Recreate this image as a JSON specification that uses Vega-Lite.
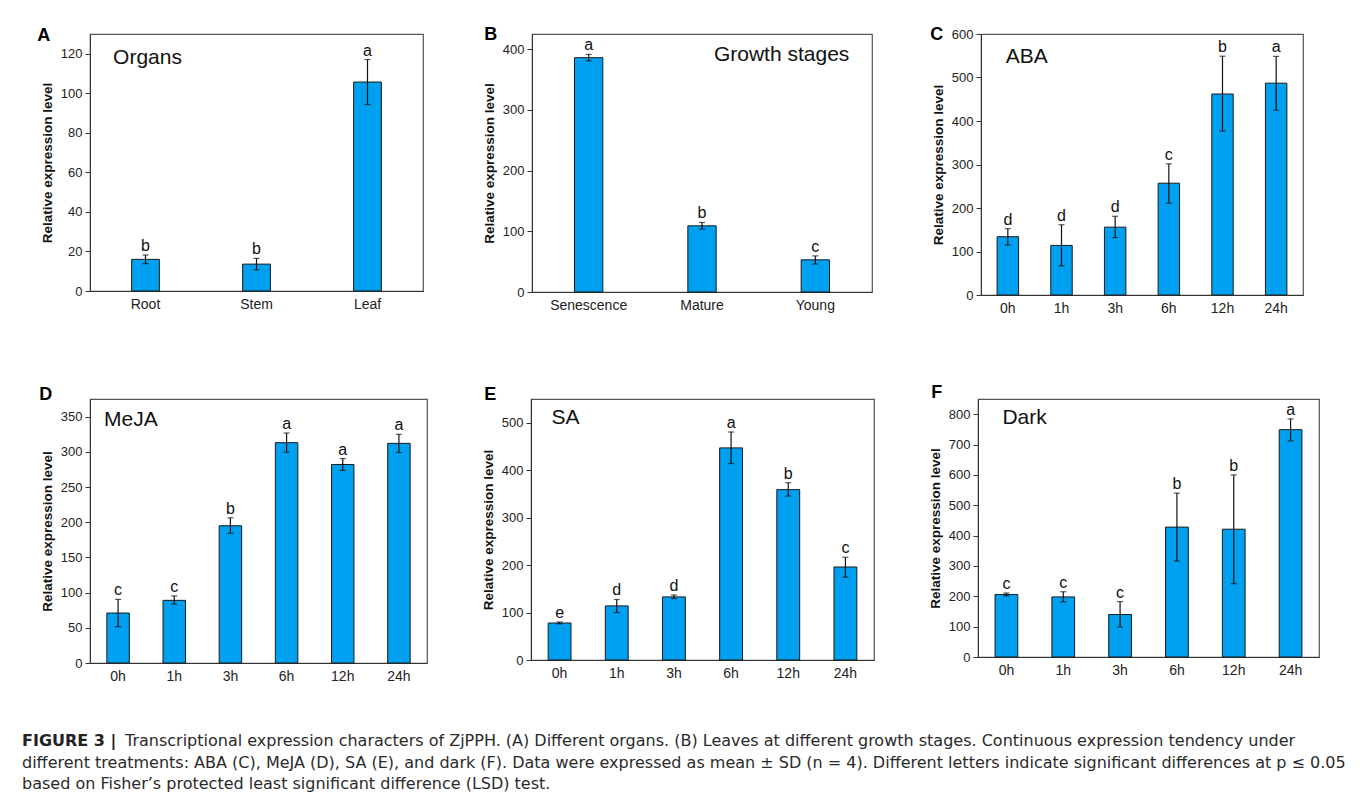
{
  "$schema": "https://vega.github.io/schema/vega-lite/v6.json",
  "padding": {"left": 22, "top": 25, "right": 5, "bottom": 5},
  "background": "white",
  "bounds": "flush",
  "spacing": 365,
  "vconcat": [
    {
      "bounds": "flush",
      "spacing": 109,
      "hconcat": [
        {
          "width": 333, "height": 257,
          "title": {"text": "A", "dx": -3, "offset": -10.5},
          "data": {"values": [
            {"g": "Root", "mean": 16, "lo": 13.8, "hi": 18.2, "letter": "b"},
            {"g": "Stem", "mean": 13.6, "lo": 10.7, "hi": 16.5, "letter": "b"},
            {"g": "Leaf", "mean": 105.7, "lo": 94.3, "hi": 117.1, "letter": "a"}
          ]},
          "encoding": {"x": {"field": "g", "type": "nominal", "sort": null, "scale": {"paddingInner": 0.75, "paddingOuter": 0.375}, "axis": {"title": null}}},
          "layer": [
            {"mark": {"type": "bar", "fill": "#00A0F0", "stroke": "#1a1a1a", "strokeWidth": 1},
             "encoding": {"y": {"field": "mean", "type": "quantitative", "title": "Relative expression level", "scale": {"domain": [0, 130], "nice": false}, "axis": {"values": [0, 20, 40, 60, 80, 100, 120]}}}},
            {"mark": {"type": "rule", "color": "#111", "strokeWidth": 1.2},
             "encoding": {"y": {"field": "lo", "type": "quantitative", "title": "Relative expression level", "scale": {"domain": [0, 130], "nice": false}, "axis": {"values": [0, 20, 40, 60, 80, 100, 120]}}, "y2": {"field": "hi"}}},
            {"mark": {"type": "tick", "color": "#111", "size": 6, "thickness": 1.2},
             "encoding": {"y": {"field": "lo", "type": "quantitative", "title": "Relative expression level", "scale": {"domain": [0, 130], "nice": false}, "axis": {"values": [0, 20, 40, 60, 80, 100, 120]}}}},
            {"mark": {"type": "tick", "color": "#111", "size": 6, "thickness": 1.2},
             "encoding": {"y": {"field": "hi", "type": "quantitative", "title": "Relative expression level", "scale": {"domain": [0, 130], "nice": false}, "axis": {"values": [0, 20, 40, 60, 80, 100, 120]}}}},
            {"mark": {"type": "text", "fontSize": 16, "color": "#111", "baseline": "alphabetic", "dy": -4},
             "encoding": {"y": {"field": "hi", "type": "quantitative", "title": "Relative expression level", "scale": {"domain": [0, 130], "nice": false}, "axis": {"values": [0, 20, 40, 60, 80, 100, 120]}}, "text": {"field": "letter"}}},
            {"data": {"values": [{"label": "Organs"}]},
             "mark": {"type": "text", "fontSize": 21, "color": "#111", "align": "center", "baseline": "middle", "dx": 2},
             "encoding": {"x": {"datum": "Root", "type": "nominal"}, "y": {"datum": 118, "type": "quantitative", "title": "Relative expression level", "scale": {"domain": [0, 130], "nice": false}, "axis": {"values": [0, 20, 40, 60, 80, 100, 120]}}, "text": {"field": "label"}}}
          ]
        },
        {
          "width": 340, "height": 258,
          "title": {"text": "B", "dx": 2, "offset": -10},
          "data": {"values": [
            {"g": "Senescence", "mean": 386, "lo": 380.6, "hi": 391.4, "letter": "a"},
            {"g": "Mature", "mean": 109, "lo": 103.5, "hi": 114.5, "letter": "b"},
            {"g": "Young", "mean": 53, "lo": 46, "hi": 59.5, "letter": "c"}
          ]},
          "encoding": {"x": {"field": "g", "type": "nominal", "sort": null, "scale": {"paddingInner": 0.75, "paddingOuter": 0.375}, "axis": {"title": null}}},
          "layer": [
            {"mark": {"type": "bar", "fill": "#00A0F0", "stroke": "#1a1a1a", "strokeWidth": 1},
             "encoding": {"y": {"field": "mean", "type": "quantitative", "title": "Relative expression level", "scale": {"domain": [0, 425], "nice": false}, "axis": {"values": [0, 100, 200, 300, 400]}}}},
            {"mark": {"type": "rule", "color": "#111", "strokeWidth": 1.2},
             "encoding": {"y": {"field": "lo", "type": "quantitative", "title": "Relative expression level", "scale": {"domain": [0, 425], "nice": false}, "axis": {"values": [0, 100, 200, 300, 400]}}, "y2": {"field": "hi"}}},
            {"mark": {"type": "tick", "color": "#111", "size": 6, "thickness": 1.2},
             "encoding": {"y": {"field": "lo", "type": "quantitative", "title": "Relative expression level", "scale": {"domain": [0, 425], "nice": false}, "axis": {"values": [0, 100, 200, 300, 400]}}}},
            {"mark": {"type": "tick", "color": "#111", "size": 6, "thickness": 1.2},
             "encoding": {"y": {"field": "hi", "type": "quantitative", "title": "Relative expression level", "scale": {"domain": [0, 425], "nice": false}, "axis": {"values": [0, 100, 200, 300, 400]}}}},
            {"mark": {"type": "text", "fontSize": 16, "color": "#111", "baseline": "alphabetic", "dy": -4},
             "encoding": {"y": {"field": "hi", "type": "quantitative", "title": "Relative expression level", "scale": {"domain": [0, 425], "nice": false}, "axis": {"values": [0, 100, 200, 300, 400]}}, "text": {"field": "letter"}}},
            {"data": {"values": [{"label": "Growth stages"}]},
             "mark": {"type": "text", "fontSize": 21, "color": "#111", "align": "right", "baseline": "middle", "dx": 34},
             "encoding": {"x": {"datum": "Young", "type": "nominal"}, "y": {"datum": 390, "type": "quantitative", "title": "Relative expression level", "scale": {"domain": [0, 425], "nice": false}, "axis": {"values": [0, 100, 200, 300, 400]}}, "text": {"field": "label"}}}
          ]
        },
        {
          "width": 322, "height": 261,
          "title": {"text": "C", "dx": -1, "offset": -16},
          "data": {"values": [
            {"g": "0h", "mean": 134, "lo": 115, "hi": 152.5, "letter": "d"},
            {"g": "1h", "mean": 114, "lo": 67, "hi": 161.5, "letter": "d"},
            {"g": "3h", "mean": 156, "lo": 132, "hi": 181, "letter": "d"},
            {"g": "6h", "mean": 257, "lo": 211, "hi": 301.5, "letter": "c"},
            {"g": "12h", "mean": 462, "lo": 377, "hi": 549, "letter": "b"},
            {"g": "24h", "mean": 487, "lo": 425, "hi": 548.5, "letter": "a"}
          ]},
          "encoding": {"x": {"field": "g", "type": "nominal", "sort": null, "scale": {"paddingInner": 0.6, "paddingOuter": 0.3}, "axis": {"title": null}}},
          "layer": [
            {"mark": {"type": "bar", "fill": "#00A0F0", "stroke": "#1a1a1a", "strokeWidth": 1},
             "encoding": {"y": {"field": "mean", "type": "quantitative", "title": "Relative expression level", "scale": {"domain": [0, 600], "nice": false}, "axis": {"values": [0, 100, 200, 300, 400, 500, 600]}}}},
            {"mark": {"type": "rule", "color": "#111", "strokeWidth": 1.2},
             "encoding": {"y": {"field": "lo", "type": "quantitative", "title": "Relative expression level", "scale": {"domain": [0, 600], "nice": false}, "axis": {"values": [0, 100, 200, 300, 400, 500, 600]}}, "y2": {"field": "hi"}}},
            {"mark": {"type": "tick", "color": "#111", "size": 6, "thickness": 1.2},
             "encoding": {"y": {"field": "lo", "type": "quantitative", "title": "Relative expression level", "scale": {"domain": [0, 600], "nice": false}, "axis": {"values": [0, 100, 200, 300, 400, 500, 600]}}}},
            {"mark": {"type": "tick", "color": "#111", "size": 6, "thickness": 1.2},
             "encoding": {"y": {"field": "hi", "type": "quantitative", "title": "Relative expression level", "scale": {"domain": [0, 600], "nice": false}, "axis": {"values": [0, 100, 200, 300, 400, 500, 600]}}}},
            {"mark": {"type": "text", "fontSize": 16, "color": "#111", "baseline": "alphabetic", "dy": -4},
             "encoding": {"y": {"field": "hi", "type": "quantitative", "title": "Relative expression level", "scale": {"domain": [0, 600], "nice": false}, "axis": {"values": [0, 100, 200, 300, 400, 500, 600]}}, "text": {"field": "letter"}}},
            {"data": {"values": [{"label": "ABA"}]},
             "mark": {"type": "text", "fontSize": 21, "color": "#111", "align": "left", "baseline": "middle", "dx": -2},
             "encoding": {"x": {"datum": "0h", "type": "nominal"}, "y": {"datum": 546, "type": "quantitative", "title": "Relative expression level", "scale": {"domain": [0, 600], "nice": false}, "axis": {"values": [0, 100, 200, 300, 400, 500, 600]}}, "text": {"field": "label"}}}
          ]
        }
      ]
    },
    {
      "bounds": "flush",
      "spacing": 104,
      "hconcat": [
        {
          "width": 337, "height": 264,
          "title": {"text": "D", "dx": -1, "offset": -5},
          "data": {"values": [
            {"g": "0h", "mean": 71, "lo": 51.6, "hi": 90.4, "letter": "c"},
            {"g": "1h", "mean": 89, "lo": 83.8, "hi": 95.3, "letter": "c"},
            {"g": "3h", "mean": 195, "lo": 184.2, "hi": 206.2, "letter": "b"},
            {"g": "6h", "mean": 313, "lo": 299.4, "hi": 326.7, "letter": "a"},
            {"g": "12h", "mean": 282, "lo": 273.6, "hi": 290.4, "letter": "a"},
            {"g": "24h", "mean": 312, "lo": 299, "hi": 324.8, "letter": "a"}
          ]},
          "encoding": {"x": {"field": "g", "type": "nominal", "sort": null, "scale": {"paddingInner": 0.6, "paddingOuter": 0.3}, "axis": {"title": null}}},
          "layer": [
            {"mark": {"type": "bar", "fill": "#00A0F0", "stroke": "#1a1a1a", "strokeWidth": 1},
             "encoding": {"y": {"field": "mean", "type": "quantitative", "title": "Relative expression level", "scale": {"domain": [0, 375], "nice": false}, "axis": {"values": [0, 50, 100, 150, 200, 250, 300, 350]}}}},
            {"mark": {"type": "rule", "color": "#111", "strokeWidth": 1.2},
             "encoding": {"y": {"field": "lo", "type": "quantitative", "title": "Relative expression level", "scale": {"domain": [0, 375], "nice": false}, "axis": {"values": [0, 50, 100, 150, 200, 250, 300, 350]}}, "y2": {"field": "hi"}}},
            {"mark": {"type": "tick", "color": "#111", "size": 6, "thickness": 1.2},
             "encoding": {"y": {"field": "lo", "type": "quantitative", "title": "Relative expression level", "scale": {"domain": [0, 375], "nice": false}, "axis": {"values": [0, 50, 100, 150, 200, 250, 300, 350]}}}},
            {"mark": {"type": "tick", "color": "#111", "size": 6, "thickness": 1.2},
             "encoding": {"y": {"field": "hi", "type": "quantitative", "title": "Relative expression level", "scale": {"domain": [0, 375], "nice": false}, "axis": {"values": [0, 50, 100, 150, 200, 250, 300, 350]}}}},
            {"mark": {"type": "text", "fontSize": 16, "color": "#111", "baseline": "alphabetic", "dy": -4},
             "encoding": {"y": {"field": "hi", "type": "quantitative", "title": "Relative expression level", "scale": {"domain": [0, 375], "nice": false}, "axis": {"values": [0, 50, 100, 150, 200, 250, 300, 350]}}, "text": {"field": "letter"}}},
            {"data": {"values": [{"label": "MeJA"}]},
             "mark": {"type": "text", "fontSize": 21, "color": "#111", "align": "left", "baseline": "middle", "dx": -14},
             "encoding": {"x": {"datum": "0h", "type": "nominal"}, "y": {"datum": 345, "type": "quantitative", "title": "Relative expression level", "scale": {"domain": [0, 375], "nice": false}, "axis": {"values": [0, 50, 100, 150, 200, 250, 300, 350]}}, "text": {"field": "label"}}}
          ]
        },
        {
          "width": 343, "height": 261,
          "title": {"text": "E", "dx": 3, "offset": -5},
          "data": {"values": [
            {"g": "0h", "mean": 78, "lo": 76, "hi": 80, "letter": "e"},
            {"g": "1h", "mean": 114, "lo": 100, "hi": 127.5, "letter": "d"},
            {"g": "3h", "mean": 133, "lo": 129.5, "hi": 137, "letter": "d"},
            {"g": "6h", "mean": 447, "lo": 414, "hi": 480.5, "letter": "a"},
            {"g": "12h", "mean": 359, "lo": 345.5, "hi": 373.5, "letter": "b"},
            {"g": "24h", "mean": 196, "lo": 174.5, "hi": 216.5, "letter": "c"}
          ]},
          "encoding": {"x": {"field": "g", "type": "nominal", "sort": null, "scale": {"paddingInner": 0.6, "paddingOuter": 0.3}, "axis": {"title": null}}},
          "layer": [
            {"mark": {"type": "bar", "fill": "#00A0F0", "stroke": "#1a1a1a", "strokeWidth": 1},
             "encoding": {"y": {"field": "mean", "type": "quantitative", "title": "Relative expression level", "scale": {"domain": [0, 550], "nice": false}, "axis": {"values": [0, 100, 200, 300, 400, 500]}}}},
            {"mark": {"type": "rule", "color": "#111", "strokeWidth": 1.2},
             "encoding": {"y": {"field": "lo", "type": "quantitative", "title": "Relative expression level", "scale": {"domain": [0, 550], "nice": false}, "axis": {"values": [0, 100, 200, 300, 400, 500]}}, "y2": {"field": "hi"}}},
            {"mark": {"type": "tick", "color": "#111", "size": 6, "thickness": 1.2},
             "encoding": {"y": {"field": "lo", "type": "quantitative", "title": "Relative expression level", "scale": {"domain": [0, 550], "nice": false}, "axis": {"values": [0, 100, 200, 300, 400, 500]}}}},
            {"mark": {"type": "tick", "color": "#111", "size": 6, "thickness": 1.2},
             "encoding": {"y": {"field": "hi", "type": "quantitative", "title": "Relative expression level", "scale": {"domain": [0, 550], "nice": false}, "axis": {"values": [0, 100, 200, 300, 400, 500]}}}},
            {"mark": {"type": "text", "fontSize": 16, "color": "#111", "baseline": "alphabetic", "dy": -4},
             "encoding": {"y": {"field": "hi", "type": "quantitative", "title": "Relative expression level", "scale": {"domain": [0, 550], "nice": false}, "axis": {"values": [0, 100, 200, 300, 400, 500]}}, "text": {"field": "letter"}}},
            {"data": {"values": [{"label": "SA"}]},
             "mark": {"type": "text", "fontSize": 21, "color": "#111", "align": "left", "baseline": "middle", "dx": -8},
             "encoding": {"x": {"datum": "0h", "type": "nominal"}, "y": {"datum": 510, "type": "quantitative", "title": "Relative expression level", "scale": {"domain": [0, 550], "nice": false}, "axis": {"values": [0, 100, 200, 300, 400, 500]}}, "text": {"field": "label"}}}
          ]
        },
        {
          "width": 341, "height": 258,
          "title": {"text": "F", "dx": 3, "offset": -3},
          "data": {"values": [
            {"g": "0h", "mean": 206, "lo": 201, "hi": 210.7, "letter": "c"},
            {"g": "1h", "mean": 198, "lo": 181.4, "hi": 215, "letter": "c"},
            {"g": "3h", "mean": 140, "lo": 98.8, "hi": 182.6, "letter": "c"},
            {"g": "6h", "mean": 428, "lo": 316, "hi": 540, "letter": "b"},
            {"g": "12h", "mean": 421, "lo": 241.3, "hi": 600, "letter": "b"},
            {"g": "24h", "mean": 749, "lo": 711.8, "hi": 784.5, "letter": "a"}
          ]},
          "encoding": {"x": {"field": "g", "type": "nominal", "sort": null, "scale": {"paddingInner": 0.6, "paddingOuter": 0.3}, "axis": {"title": null}}},
          "layer": [
            {"mark": {"type": "bar", "fill": "#00A0F0", "stroke": "#1a1a1a", "strokeWidth": 1},
             "encoding": {"y": {"field": "mean", "type": "quantitative", "title": "Relative expression level", "scale": {"domain": [0, 850], "nice": false}, "axis": {"values": [0, 100, 200, 300, 400, 500, 600, 700, 800]}}}},
            {"mark": {"type": "rule", "color": "#111", "strokeWidth": 1.2},
             "encoding": {"y": {"field": "lo", "type": "quantitative", "title": "Relative expression level", "scale": {"domain": [0, 850], "nice": false}, "axis": {"values": [0, 100, 200, 300, 400, 500, 600, 700, 800]}}, "y2": {"field": "hi"}}},
            {"mark": {"type": "tick", "color": "#111", "size": 6, "thickness": 1.2},
             "encoding": {"y": {"field": "lo", "type": "quantitative", "title": "Relative expression level", "scale": {"domain": [0, 850], "nice": false}, "axis": {"values": [0, 100, 200, 300, 400, 500, 600, 700, 800]}}}},
            {"mark": {"type": "tick", "color": "#111", "size": 6, "thickness": 1.2},
             "encoding": {"y": {"field": "hi", "type": "quantitative", "title": "Relative expression level", "scale": {"domain": [0, 850], "nice": false}, "axis": {"values": [0, 100, 200, 300, 400, 500, 600, 700, 800]}}}},
            {"mark": {"type": "text", "fontSize": 16, "color": "#111", "baseline": "alphabetic", "dy": -4},
             "encoding": {"y": {"field": "hi", "type": "quantitative", "title": "Relative expression level", "scale": {"domain": [0, 850], "nice": false}, "axis": {"values": [0, 100, 200, 300, 400, 500, 600, 700, 800]}}, "text": {"field": "letter"}}},
            {"data": {"values": [{"label": "Dark"}]},
             "mark": {"type": "text", "fontSize": 21, "color": "#111", "align": "left", "baseline": "middle", "dx": -4},
             "encoding": {"x": {"datum": "0h", "type": "nominal"}, "y": {"datum": 788, "type": "quantitative", "title": "Relative expression level", "scale": {"domain": [0, 850], "nice": false}, "axis": {"values": [0, 100, 200, 300, 400, 500, 600, 700, 800]}}, "text": {"field": "label"}}}
          ]
        }
      ]
    },
    {
      "width": 1229, "height": 43,
      "view": {"stroke": null},
      "data": {"values": [
        {"line": 1, "part": "bold", "text": "FIGURE 3 |"},
        {"line": 1, "part": "rest", "text": "Transcriptional expression characters of ZjPPH. (A) Different organs. (B) Leaves at different growth stages. Continuous expression tendency under"},
        {"line": 2, "part": "main", "text": "different treatments: ABA (C), MeJA (D), SA (E), and dark (F). Data were expressed as mean ± SD (n = 4). Different letters indicate significant differences at p ≤ 0.05"},
        {"line": 3, "part": "main", "text": "based on Fisher’s protected least significant difference (LSD) test."}
      ]},
      "encoding": {
        "x": {"datum": 0, "type": "quantitative", "scale": {"domain": [0, 1]}, "axis": null},
        "y": {"field": "line", "type": "ordinal", "scale": {"type": "point", "padding": 0}, "axis": null},
        "text": {"field": "text"}
      },
      "layer": [
        {"transform": [{"filter": "datum.part === 'bold'"}],
         "mark": {"type": "text", "align": "left", "baseline": "middle", "font": "DejaVu Sans", "fontSize": 16, "fontWeight": "bold", "color": "#222", "dx": -68, "dy": -23}},
        {"transform": [{"filter": "datum.part === 'rest'"}],
         "mark": {"type": "text", "align": "left", "baseline": "middle", "font": "DejaVu Sans", "fontSize": 16, "color": "#2a2a2a", "dx": 35, "dy": -23}},
        {"transform": [{"filter": "datum.part === 'main'"}],
         "mark": {"type": "text", "align": "left", "baseline": "middle", "font": "DejaVu Sans", "fontSize": 16, "color": "#2a2a2a", "dx": -68, "dy": -23}}
      ]
    }
  ],
  "config": {
    "font": "Liberation Sans",
    "view": {"stroke": "#555", "strokeWidth": 1.2},
    "axis": {"domainColor": "#333", "tickColor": "#333", "labelColor": "#222", "titleColor": "#111", "grid": false, "labelOverlap": false},
    "axisY": {"tickSize": 5, "labelFontSize": 13, "labelPadding": 3, "titleFontSize": 13.5, "titleFontWeight": "bold", "titlePadding": 6},
    "axisX": {"ticks": false, "labelFontSize": 14, "labelPadding": 6, "labelAngle": 0},
    "title": {"fontSize": 18, "fontWeight": "bold", "anchor": "start", "color": "#000"}
  }
}
